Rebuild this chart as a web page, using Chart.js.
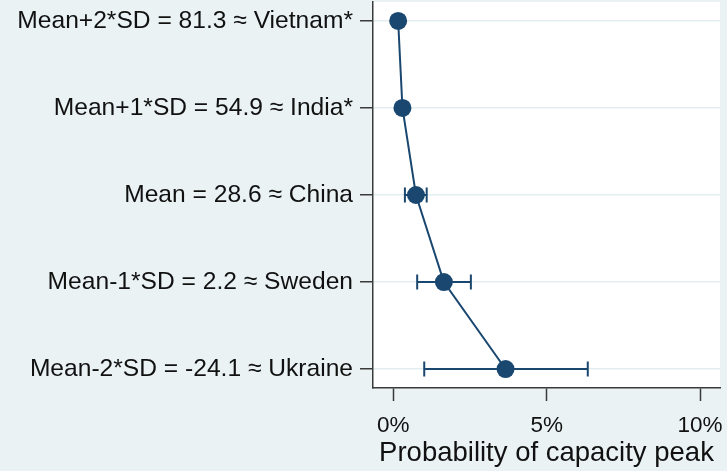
<!DOCTYPE html>
<html>
<head>
<meta charset="utf-8">
<script src="https://cdn.jsdelivr.net/npm/chart.js@4/dist/chart.umd.min.js"></script>
<style>
  html, body { margin: 0; padding: 0; background: #eaf2f3; }
  #wrap { width: 727px; height: 471px; }
</style>
</head>
<body>
<div id="wrap"><canvas id="c" width="727" height="471"></canvas></div>
<script>
// Scenario labels (top to bottom)
const scenarios = [
  'Mean+2*SD = 81.3 \u2248 Vietnam*',
  'Mean+1*SD = 54.9 \u2248 India*',
  'Mean = 28.6 \u2248 China',
  'Mean-1*SD = 2.2 \u2248 Sweden',
  'Mean-2*SD = -24.1 \u2248 Ukraine'
];
// Predicted probability of a capacity peak (%) and its confidence interval
const probability = [0.16, 0.30, 0.74, 1.65, 3.66];
const ciLower     = [0.10, 0.22, 0.38, 0.78, 1.01];
const ciUpper     = [0.22, 0.40, 1.09, 2.53, 6.34];
// Axis ticks (%)
const xTicks = [0, 5, 10];
const xTitle = 'Probability of capacity peak';

const NAVY = '#1a476f';
const AXIS = '#3a3a3a';
const BG = '#eaf2f3';
const FONT = 'Liberation Sans, Arial, sans-serif';

const points = probability.map((p, i) => ({ x: p, y: i, lo: ciLower[i], hi: ciUpper[i] }));

// Background: light outer region, white plot region
const backgroundPlugin = {
  id: 'backgrounds',
  beforeDraw(chart) {
    const { ctx, chartArea: a } = chart;
    ctx.save();
    ctx.fillStyle = BG;
    ctx.fillRect(0, 0, chart.width, chart.height);
    ctx.fillStyle = '#ffffff';
    ctx.fillRect(a.left, a.top, a.right - a.left, a.bottom - a.top);
    ctx.restore();
  }
};

// Horizontal confidence-interval whiskers with end caps
const errorBarPlugin = {
  id: 'errorBars',
  beforeDatasetsDraw(chart) {
    const { ctx, scales: { x, y } } = chart;
    const cap = 7.5;
    ctx.save();
    ctx.strokeStyle = NAVY;
    ctx.lineWidth = 2;
    points.forEach(pt => {
      const py = y.getPixelForValue(pt.y);
      const x0 = x.getPixelForValue(pt.lo);
      const x1 = x.getPixelForValue(pt.hi);
      ctx.beginPath();
      ctx.moveTo(x0, py); ctx.lineTo(x1, py);
      ctx.moveTo(x0, py - cap); ctx.lineTo(x0, py + cap);
      ctx.moveTo(x1, py - cap); ctx.lineTo(x1, py + cap);
      ctx.stroke();
    });
    ctx.restore();
  }
};

new Chart(document.getElementById('c'), {
  type: 'scatter',
  data: {
    datasets: [{
      data: points,
      showLine: true,
      borderColor: NAVY,
      borderWidth: 2,
      backgroundColor: NAVY,
      pointBackgroundColor: NAVY,
      pointBorderColor: NAVY,
      pointRadius: 9,
      pointBorderWidth: 0,
      tension: 0
    }]
  },
  options: {
    responsive: false,
    devicePixelRatio: 1,
    animation: false,
    events: [],
    layout: { autoPadding: false, padding: { top: 2, right: 7, left: 0, bottom: 0 } },
    plugins: { legend: { display: false }, tooltip: { enabled: false } },
    scales: {
      x: {
        type: 'linear',
        min: -0.66,
        max: 10.65,
        afterBuildTicks(scale) { scale.ticks = xTicks.map(v => ({ value: v })); },
        afterFit(scale) {
          scale.height = 83;
          scale.paddingLeft = 0;
          scale.paddingRight = 0;
        },
        ticks: {
          callback: v => v + '%',
          color: '#111',
          font: { family: FONT, size: 22.5 },
          padding: 11,
          maxRotation: 0
        },
        grid: {
          drawOnChartArea: false,
          drawTicks: true,
          tickLength: 13,
          tickColor: AXIS,
          tickWidth: 1.5
        },
        border: { color: AXIS, width: 1.5 },
        title: {
          display: true,
          text: xTitle,
          color: '#111',
          font: { family: FONT, size: 27.5 },
          padding: { top: 0, bottom: 1 }
        }
      },
      y: {
        type: 'linear',
        reverse: true,
        min: -0.218,
        max: 4.218,
        afterBuildTicks(scale) { scale.ticks = scenarios.map((_, i) => ({ value: i })); },
        afterFit(scale) {
          scale.width = 373;
          scale.paddingTop = 0;
          scale.paddingBottom = 0;
        },
        ticks: {
          callback: v => scenarios[v],
          color: '#111',
          font: { family: FONT, size: 24.6 },
          padding: 7
        },
        grid: {
          color: '#e3edef',
          lineWidth: 1.5,
          tickLength: 13,
          tickColor: AXIS,
          tickWidth: 1.5
        },
        border: { color: AXIS, width: 1.5 }
      }
    }
  },
  plugins: [backgroundPlugin, errorBarPlugin]
});
</script>
</body>
</html>
